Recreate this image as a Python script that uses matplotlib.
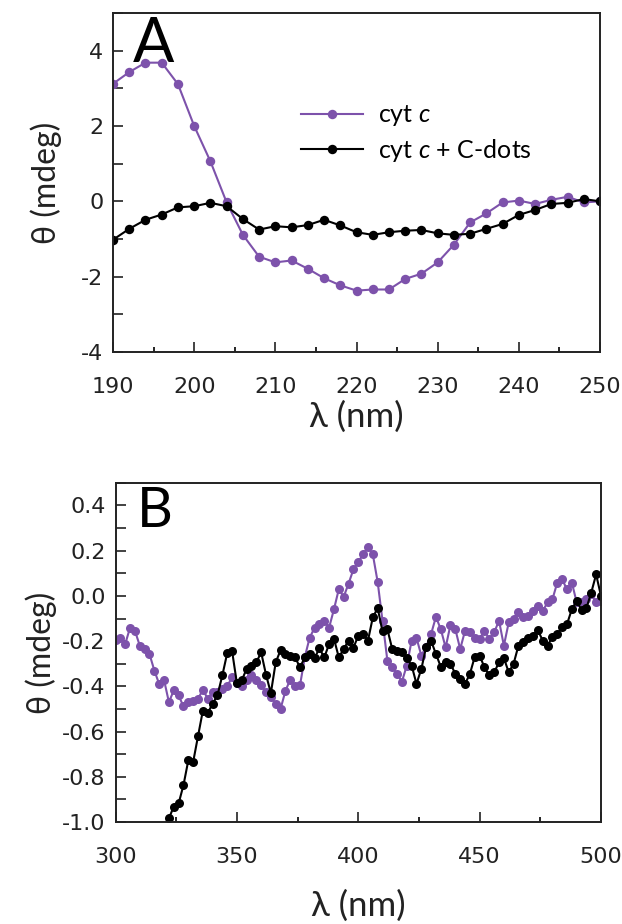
import numpy as np
import matplotlib
matplotlib.use('Agg')
import matplotlib.pyplot as plt
from matplotlib.ticker import MultipleLocator, FormatStrFormatter

plt.rcParams['axes.unicode_minus'] = False
plt.rcParams['mathtext.fontset'] = 'custom'
plt.rcParams['mathtext.rm'] = 'Lato'
plt.rcParams['mathtext.it'] = 'Lato:italic'

# panel A, far-UV CD
wl_a = [190, 192, 194, 196, 198, 200, 202, 204, 206, 208, 210, 212, 214, 216, 218, 220,
        222, 224, 226, 228, 230, 232, 234, 236, 238, 240, 242, 244, 246, 248, 250]
cytc_a = [3.12, 3.43, 3.68, 3.68, 3.11, 2.00, 1.06, -0.03, -0.89, -1.47, -1.62, -1.57,
          -1.79, -2.04, -2.23, -2.37, -2.34, -2.34, -2.06, -1.92, -1.62, -1.15, -0.56,
          -0.32, -0.03, 0.02, -0.07, 0.04, 0.12, -0.03, 0.00]
dots_a = [-1.02, -0.73, -0.49, -0.35, -0.16, -0.13, -0.04, -0.13, -0.47, -0.75, -0.66,
          -0.69, -0.63, -0.49, -0.64, -0.82, -0.89, -0.82, -0.78, -0.76, -0.85, -0.89,
          -0.86, -0.73, -0.60, -0.36, -0.23, -0.07, -0.04, 0.06, 0.00]

# panel B, Soret region
wl_b = [300, 302, 304, 306, 308, 310, 312, 314, 316, 318,
        320, 322, 324, 326, 328, 330, 332, 334, 336, 338,
        340, 342, 344, 346, 348, 350, 352, 354, 356, 358,
        360, 362, 364, 366, 368, 370, 372, 374, 376, 378,
        380, 382, 384, 386, 388, 390, 392, 394, 396, 398,
        400, 402, 404, 406, 408, 410, 412, 414, 416, 418,
        420, 422, 424, 426, 428, 430, 432, 434, 436, 438,
        440, 442, 444, 446, 448, 450, 452, 454, 456, 458,
        460, 462, 464, 466, 468, 470, 472, 474, 476, 478,
        480, 482, 484, 486, 488, 490, 492, 494, 496, 498, 500]
cytc_b = [-0.195, -0.184, -0.213, -0.140, -0.154, -0.220, -0.235, -0.257, -0.330, -0.390,
          -0.372, -0.470, -0.418, -0.440, -0.489, -0.470, -0.463, -0.455, -0.415, -0.455,
          -0.426, -0.426, -0.410, -0.400, -0.360, -0.386, -0.400, -0.370, -0.352, -0.374,
          -0.396, -0.426, -0.448, -0.477, -0.500, -0.420, -0.370, -0.400, -0.396, -0.270,
          -0.184, -0.142, -0.125, -0.110, -0.140, -0.059, 0.030, -0.004, 0.054, 0.117,
          0.150, 0.184, 0.216, 0.184, 0.062, -0.110, -0.286, -0.316, -0.345, -0.379,
          -0.308, -0.198, -0.186, -0.264, -0.224, -0.169, -0.093, -0.147, -0.228, -0.128,
          -0.147, -0.235, -0.154, -0.161, -0.184, -0.190, -0.154, -0.190, -0.161, -0.110,
          -0.220, -0.117, -0.103, -0.069, -0.095, -0.088, -0.066, -0.044, -0.066, -0.029,
          -0.015, 0.059, 0.073, 0.029, 0.059, -0.029, -0.029, -0.015, 0.007, -0.029, -0.022]
wl_b_dots = wl_b[10:]
dots_b = [-1.080, -0.984, -0.932, -0.918, -0.837, -0.727, -0.734, -0.620, -0.507, -0.518,
          -0.477, -0.440, -0.352, -0.254, -0.242, -0.386, -0.374, -0.323, -0.308, -0.294,
          -0.250, -0.348, -0.430, -0.294, -0.240, -0.257, -0.264, -0.272, -0.316, -0.272,
          -0.257, -0.275, -0.232, -0.272, -0.213, -0.190, -0.272, -0.235, -0.198, -0.230,
          -0.176, -0.169, -0.198, -0.095, -0.054, -0.157, -0.147, -0.235, -0.242, -0.250,
          -0.275, -0.308, -0.389, -0.323, -0.224, -0.198, -0.257, -0.313, -0.294, -0.300,
          -0.345, -0.367, -0.389, -0.345, -0.269, -0.264, -0.316, -0.352, -0.338, -0.294,
          -0.275, -0.338, -0.300, -0.220, -0.205, -0.184, -0.176, -0.151, -0.198, -0.220,
          -0.180, -0.169, -0.137, -0.125, -0.059, -0.022, -0.063, -0.054, 0.015, 0.095, 0.000]

purple = '#7d52ab'
lab_font = ['Lato', 'DejaVu Sans']

fig = plt.figure(figsize=(6.22, 9.24), dpi=100)
axA = fig.add_axes([0.1817, 0.619, 0.783, 0.367])
axB = fig.add_axes([0.1857, 0.1104, 0.7805, 0.367])

axA.plot(wl_a, cytc_a, '-o', color=purple, lw=1.5, ms=6.8, mew=0, label='cyt $\\it{c}$')
axA.plot(wl_a, dots_a, '-o', color='black', lw=1.5, ms=6.8, mew=0, label='cyt $\\it{c}$ + C-dots')
axA.set_xlim(190, 250)
axA.set_ylim(-4, 5)
axA.xaxis.set_major_locator(MultipleLocator(10))
axA.xaxis.set_minor_locator(MultipleLocator(5))
axA.yaxis.set_minor_locator(MultipleLocator(1))
axA.set_yticks([-4, -2, 0, 2, 4])

axB.plot(wl_b, cytc_b, '-o', color=purple, lw=1.5, ms=6.5, mew=0)
axB.plot(wl_b_dots, dots_b, '-o', color='black', lw=1.5, ms=6.5, mew=0)
axB.set_xlim(300, 500)
axB.set_ylim(-1.0, 0.5)
axB.xaxis.set_major_locator(MultipleLocator(50))
axB.xaxis.set_minor_locator(MultipleLocator(25))
axB.set_yticks([-1.0, -0.8, -0.6, -0.4, -0.2, 0.0, 0.2, 0.4])
axB.yaxis.set_minor_locator(MultipleLocator(0.1))
axB.yaxis.set_major_formatter(FormatStrFormatter('%.1f'))

for ax in (axA, axB):
    for s in ax.spines.values():
        s.set_linewidth(1.4)
        s.set_color('#222222')
    ax.tick_params(axis='x', which='major', direction='in', length=7, width=1.2,
                   pad=18, labelsize=16, colors='#222222')
    ax.tick_params(axis='x', which='minor', direction='in', length=3.5, width=1.2)
    ax.tick_params(axis='y', which='both', direction='in', length=7, width=1.2,
                   pad=7, labelsize=16, colors='#222222')
    ax.set_xlabel('λ (nm)', fontsize=25, family=lab_font, color='#222222')
    ax.set_ylabel('θ (mdeg)', fontsize=23, family=lab_font, color='#222222')

axA.xaxis.set_label_coords(0.5, -0.142)
axB.xaxis.set_label_coords(0.5, -0.2)
axA.yaxis.set_label_coords(-0.105, 0.5)
axB.yaxis.set_label_coords(-0.12, 0.5)

axA.text(0.04, 0.99, 'A', transform=axA.transAxes, fontsize=44, family=lab_font,
         va='top', ha='left')
axB.text(0.043, 0.99, 'B', transform=axB.transAxes, fontsize=40, family=lab_font,
         va='top', ha='left')

axA.legend(loc='upper left', bbox_to_anchor=(0.36, 0.77), frameon=False,
           handlelength=2.5, handletextpad=0.6, labelspacing=0.35, borderpad=0,
           prop={'family': lab_font, 'size': 18})

fig.savefig('out.png', dpi=100)
